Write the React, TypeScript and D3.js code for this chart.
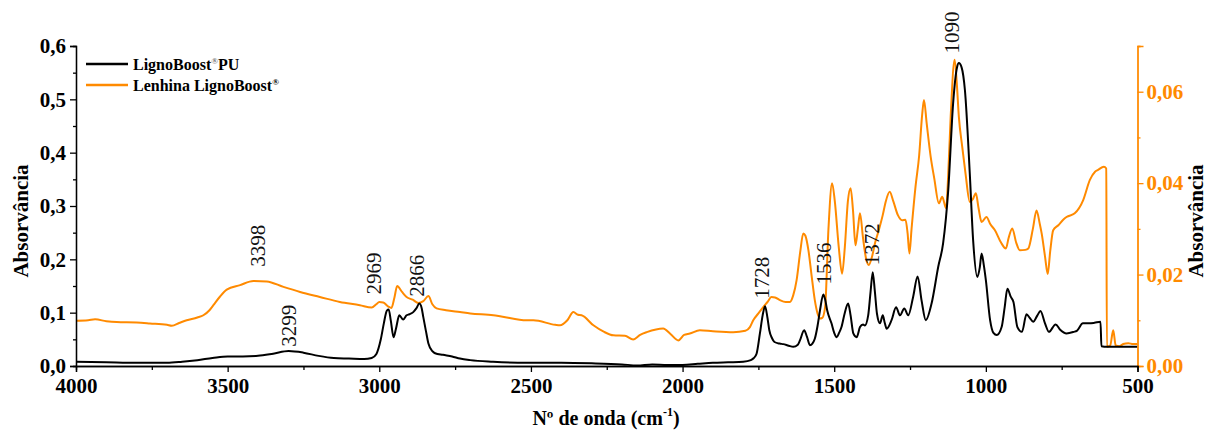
import React, { useEffect, useRef } from 'react'
import * as d3 from 'd3'

// LignoBoost PU (left axis)
const puWave = [4000, 3900, 3800, 3700, 3650, 3600, 3550, 3500, 3450, 3400, 3350, 3299, 3250, 3200, 3150, 3100, 3050, 3025, 3010, 2995, 2985, 2975, 2969, 2962, 2953, 2945, 2934, 2921, 2910, 2901, 2888, 2878, 2868, 2860, 2855, 2846, 2838, 2825, 2816, 2790, 2760, 2734, 2700, 2625, 2514, 2400, 2300, 2200, 2150, 2100, 2050, 2000, 1950, 1900, 1850, 1800, 1775, 1765, 1756, 1745, 1736, 1728, 1720, 1714, 1705, 1697, 1680, 1668, 1650, 1635, 1620, 1613, 1599, 1590, 1580, 1572, 1564, 1555, 1547, 1536, 1530, 1523, 1509, 1500, 1492, 1484, 1476, 1465, 1454, 1446, 1437, 1426, 1415, 1405, 1399, 1388, 1380, 1373, 1366, 1359, 1349, 1340, 1333, 1327, 1311, 1296, 1283, 1269, 1256, 1240, 1225, 1212, 1198, 1179, 1157, 1141, 1124, 1108, 1095, 1089, 1080, 1069, 1053, 1042, 1028, 1020, 1014, 1007, 1000, 986, 975, 964, 948, 938, 929, 918, 909, 896, 881, 866, 855, 844, 830, 820, 805, 792, 770, 755, 734, 710, 700, 680, 660, 642, 622, 619, 600, 550, 500]
const puAbs = [0.008, 0.007, 0.006, 0.006, 0.008, 0.011, 0.015, 0.018, 0.018, 0.019, 0.023, 0.028, 0.025, 0.019, 0.015, 0.014, 0.013, 0.015, 0.022, 0.05, 0.08, 0.104, 0.106, 0.085, 0.054, 0.07, 0.095, 0.087, 0.095, 0.097, 0.101, 0.108, 0.117, 0.108, 0.092, 0.065, 0.042, 0.028, 0.024, 0.021, 0.018, 0.014, 0.011, 0.008, 0.006, 0.006, 0.005, 0.003, 0.001, 0.003, 0.002, 0.002, 0.004, 0.006, 0.007, 0.008, 0.011, 0.015, 0.023, 0.061, 0.095, 0.112, 0.09, 0.067, 0.052, 0.045, 0.042, 0.041, 0.038, 0.036, 0.04, 0.048, 0.067, 0.055, 0.039, 0.042, 0.051, 0.075, 0.104, 0.134, 0.125, 0.104, 0.08, 0.062, 0.054, 0.062, 0.073, 0.1, 0.117, 0.095, 0.061, 0.054, 0.073, 0.078, 0.076, 0.095, 0.14, 0.176, 0.14, 0.098, 0.08, 0.095, 0.08, 0.07, 0.086, 0.11, 0.095, 0.108, 0.095, 0.129, 0.168, 0.123, 0.086, 0.117, 0.186, 0.23, 0.33, 0.492, 0.56, 0.568, 0.56, 0.517, 0.361, 0.236, 0.167, 0.185, 0.211, 0.19, 0.161, 0.086, 0.062, 0.058, 0.073, 0.11, 0.145, 0.13, 0.12, 0.073, 0.064, 0.097, 0.09, 0.083, 0.095, 0.103, 0.08, 0.064, 0.078, 0.068, 0.061, 0.064, 0.066, 0.08, 0.08, 0.081, 0.083, 0.037, 0.036, 0.036, 0.036]

// Lenhina LignoBoost (right axis)
const lbWave = [4000, 3960, 3937, 3900, 3866, 3800, 3756, 3700, 3684, 3660, 3635, 3600, 3580, 3560, 3547, 3525, 3503, 3459, 3415, 3371, 3316, 3261, 3196, 3130, 3064, 3025, 3010, 3000, 2987, 2970, 2960, 2950, 2941, 2925, 2910, 2890, 2871, 2855, 2838, 2825, 2811, 2780, 2734, 2700, 2624, 2602, 2514, 2492, 2420, 2404, 2380, 2360, 2345, 2333, 2294, 2260, 2228, 2190, 2163, 2140, 2118, 2064, 2040, 2014, 1995, 1976, 1943, 1900, 1833, 1793, 1778, 1767, 1750, 1734, 1720, 1707, 1695, 1679, 1660, 1646, 1635, 1624, 1612, 1602, 1595, 1585, 1575, 1564, 1555, 1547, 1540, 1530, 1519, 1507, 1498, 1485, 1474, 1465, 1455, 1446, 1438, 1430, 1422, 1415, 1405, 1395, 1386, 1375, 1365, 1353, 1340, 1330, 1317, 1305, 1290, 1276, 1265, 1258, 1252, 1245, 1232, 1220, 1210, 1204, 1195, 1182, 1170, 1155, 1144, 1131, 1124, 1116, 1103, 1096, 1089, 1078, 1067, 1053, 1043, 1033, 1024, 1014, 998, 985, 970, 950, 934, 925, 913, 900, 888, 870, 860, 845, 833, 822, 816, 805, 796, 788, 778, 761, 745, 734, 707, 679, 657, 640, 630, 611, 603, 601, 590, 580, 572, 560, 547, 530, 515, 500]
const lbAbs = [0.0099, 0.01, 0.0102, 0.0098, 0.0096, 0.0095, 0.0093, 0.009, 0.0088, 0.0094, 0.01, 0.0106, 0.0111, 0.0122, 0.0133, 0.0152, 0.0167, 0.0177, 0.0186, 0.0185, 0.0173, 0.0162, 0.0151, 0.014, 0.0133, 0.0128, 0.0135, 0.014, 0.0139, 0.013, 0.0127, 0.015, 0.0175, 0.0162, 0.0151, 0.0145, 0.0138, 0.0142, 0.0153, 0.0135, 0.0126, 0.0122, 0.0118, 0.0115, 0.0111, 0.0109, 0.01, 0.01, 0.009, 0.0089, 0.01, 0.0118, 0.0112, 0.0111, 0.0089, 0.0075, 0.0067, 0.0066, 0.0058, 0.0068, 0.0074, 0.0082, 0.007, 0.0056, 0.0068, 0.0071, 0.0078, 0.0076, 0.0074, 0.0077, 0.0085, 0.01, 0.0115, 0.0129, 0.014, 0.0151, 0.015, 0.0144, 0.014, 0.014, 0.0155, 0.0188, 0.025, 0.029, 0.0285, 0.0253, 0.02, 0.0144, 0.0115, 0.0104, 0.0105, 0.0129, 0.03, 0.04, 0.036, 0.026, 0.0202, 0.026, 0.036, 0.0389, 0.034, 0.0264, 0.03, 0.0334, 0.028, 0.0235, 0.0221, 0.024, 0.027, 0.0297, 0.033, 0.036, 0.0381, 0.036, 0.033, 0.0319, 0.032, 0.029, 0.0246, 0.03, 0.0392, 0.046, 0.055, 0.0582, 0.053, 0.0458, 0.041, 0.0356, 0.037, 0.0345, 0.042, 0.0545, 0.067, 0.062, 0.0545, 0.048, 0.0421, 0.0359, 0.0365, 0.0378, 0.0345, 0.0315, 0.0326, 0.031, 0.0297, 0.027, 0.0257, 0.028, 0.0301, 0.027, 0.0253, 0.0254, 0.0257, 0.03, 0.034, 0.031, 0.029, 0.024, 0.0201, 0.025, 0.0297, 0.0308, 0.032, 0.0326, 0.0334, 0.0363, 0.0407, 0.0425, 0.0429, 0.0436, 0.0432, 0.0042, 0.0045, 0.0078, 0.0045, 0.0043, 0.0048, 0.005, 0.0048, 0.0048]

const xTicks = [4000, 3500, 3000, 2500, 2000, 1500, 1000, 500]
const leftTicks = [0, 0.1, 0.2, 0.3, 0.4, 0.5, 0.6]
const rightTicks = [0, 0.02, 0.04, 0.06]

// peak labels: text, wavenumber where the label sits, absorbance of its lower end
const peakText = ['3398', '3299', '2969', '2866', '1728', '1536', '1372', '1090']
const peakWave = [3400, 3299, 3017, 2877, 1739, 1536, 1376, 1113]
const peakAt = [0.186, 0.036, 0.134, 0.130, 0.126, 0.153, 0.189, 0.586]

const ORANGE = '#ff8a00'
const FONT = '"Liberation Serif", "Times New Roman", serif'

const W = 1209
const H = 432

export default function App() {
  const leftRef = useRef<SVGGElement>(null)
  const rightRef = useRef<SVGGElement>(null)
  const bottomRef = useRef<SVGGElement>(null)

  const x = d3.scaleLinear().domain([4000, 500]).range([76, 1137.5])
  const yL = d3.scaleLinear().domain([0, 0.6]).range([366, 46])
  const yR = d3.scaleLinear().domain([0, 0.07]).range([366, 46])

  const puLine = d3
    .line<number>()
    .x((d, i) => x(puWave[i]))
    .y((d) => yL(d))
    .curve(d3.curveMonotoneX)
  const lbLine = d3
    .line<number>()
    .x((d, i) => x(lbWave[i]))
    .y((d) => yR(d))
    .curve(d3.curveMonotoneX)

  useEffect(() => {
    const comma = (f: string) => (d: any) => d3.format(f)(d).replace('.', ',')

    const styleAxis = (g: any, color: string) => {
      g.selectAll('path').attr('stroke', color).attr('stroke-width', 1.3)
      g.selectAll('line').attr('stroke', color).attr('stroke-width', 1.3)
      g.selectAll('text')
        .attr('fill', color)
        .style('font-family', FONT)
        .style('font-weight', 'bold')
        .style('font-size', '21px')
    }

    const left = d3.select(leftRef.current)
    left.selectAll('*').remove()
    left.append('g').call(d3.axisLeft(yL).tickValues(d3.range(0.05, 0.6, 0.1)).tickSize(3).tickFormat(() => ''))
    left.append('g').call(d3.axisLeft(yL).tickValues(leftTicks).tickSize(6).tickPadding(4).tickFormat(comma('.1f')))
    styleAxis(left, '#000')

    const right = d3.select(rightRef.current)
    right.selectAll('*').remove()
    right.append('g').call(d3.axisRight(yR).tickValues([0.01, 0.03, 0.05, 0.07]).tickSize(3).tickFormat(() => ''))
    right.append('g').call(d3.axisRight(yR).tickValues(rightTicks).tickSize(6).tickPadding(3).tickFormat(comma('.2f')))
    styleAxis(right, ORANGE)

    const bottom = d3.select(bottomRef.current)
    bottom.selectAll('*').remove()
    bottom.append('g').call(d3.axisBottom(x).tickValues(d3.range(3750, 500, -500)).tickSize(4).tickFormat(() => ''))
    bottom.append('g').call(d3.axisBottom(x).tickValues(xTicks).tickSize(6).tickPadding(6).tickFormat(d3.format('d')))
    styleAxis(bottom, '#000')
  }, [])

  return (
    <svg width={W} height={H} style={{ position: 'absolute', left: 0, top: 0, background: '#fff' }}>
      <path d={lbLine(lbAbs) ?? ''} fill="none" stroke={ORANGE} strokeWidth={2} />
      <path d={puLine(puAbs) ?? ''} fill="none" stroke="#000" strokeWidth={2} />

      <g ref={leftRef} transform="translate(76,0)" />
      <g ref={rightRef} transform="translate(1137.5,0)" />
      <g ref={bottomRef} transform="translate(0,366)" />

      {peakText.map((t, i) => (
        <text
          key={t}
          transform={`translate(${x(peakWave[i])},${yL(peakAt[i])}) rotate(-90)`}
          dy="0.35em"
          fontFamily={FONT}
          fontSize={21}
          fill="#111"
        >
          {t}
        </text>
      ))}

      <text
        transform="translate(21,221) rotate(-90)"
        dy="0.35em"
        textAnchor="middle"
        fontFamily={FONT}
        fontWeight="bold"
        fontSize={21}
      >
        Absorvância
      </text>
      <text
        transform="translate(1196,221) rotate(-90)"
        dy="0.35em"
        textAnchor="middle"
        fontFamily={FONT}
        fontWeight="bold"
        fontSize={21}
      >
        Absorvância
      </text>
      <text x={606} y={425} textAnchor="middle" fontFamily={FONT} fontWeight="bold" fontSize={20}>
        Nº de onda (cm
        <tspan fontSize={12} dy={-9}>-1</tspan>
        <tspan dy={9}>)</tspan>
      </text>

      <g fontFamily={FONT} fontWeight="bold" fontSize={16}>
        <line x1={86} x2={128} y1={64} y2={64} stroke="#000" strokeWidth={2.5} />
        <text x={133} y={70}>
          LignoBoost
          <tspan fontSize={9} dy={-6} fill="#777">®</tspan>
          <tspan dy={6}>PU</tspan>
        </text>
        <line x1={86} x2={128} y1={85} y2={85} stroke={ORANGE} strokeWidth={2.5} />
        <text x={133} y={91}>
          Lenhina LignoBoost
          <tspan fontSize={9} dy={-6}>®</tspan>
        </text>
      </g>
    </svg>
  )
}
